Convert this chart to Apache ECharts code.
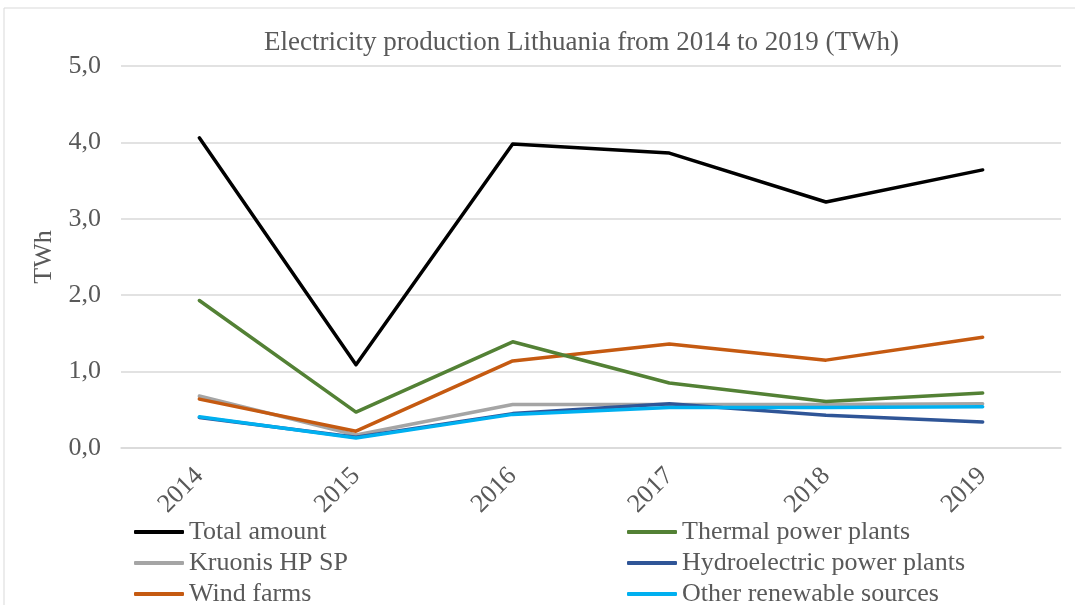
<!DOCTYPE html>
<html>
<head>
<meta charset="utf-8">
<script src="https://cdn.jsdelivr.net/npm/echarts@6/dist/echarts.min.js"></script>
<style>
  html, body { margin: 0; padding: 0; background: #ffffff; }
  #chart { width: 1075px; height: 605px; }
</style>
</head>
<body>
<div id="chart"></div>
<script>
// Electricity production in Lithuania, TWh per year
const years = ['2014', '2015', '2016', '2017', '2018', '2019'];
const totalAmount   = [4.06, 1.09, 3.98, 3.86, 3.22, 3.64];
const thermalPlants = [1.93, 0.47, 1.39, 0.85, 0.61, 0.72];
const kruonisHPSP   = [0.68, 0.17, 0.57, 0.57, 0.57, 0.58];
const hydroPlants   = [0.40, 0.14, 0.45, 0.58, 0.43, 0.34];
const windFarms     = [0.64, 0.22, 1.14, 1.36, 1.15, 1.45];
const otherRenew    = [0.41, 0.13, 0.44, 0.53, 0.53, 0.54];
const yTicks = [0, 1, 2, 3, 4, 5];

const FONT = '"Liberation Serif", "Times New Roman", serif';
const TEXT = '#595959';
const FS = 26;

function line(name, data, color) {
  return {
    name: name,
    type: 'line',
    data: data,
    symbol: 'none',
    lineStyle: { color: color, width: 3.5, cap: 'round', join: 'round' },
    itemStyle: { color: color }
  };
}

function legendColumn(left, names) {
  return {
    orient: 'vertical',
    left: left, top: 514, height: 120,
    icon: 'roundRect', itemWidth: 50, itemHeight: 4, itemGap: 5,
    textStyle: {
      fontFamily: FONT, fontSize: FS, lineHeight: 26, color: TEXT
    },
    data: names
  };
}

const chart = echarts.init(document.getElementById('chart'));
chart.setOption({
  animation: false,
  backgroundColor: '#ffffff',
  graphic: [{
    type: 'rect',
    shape: { x: 4, y: 8, width: 1200, height: 800 },
    style: { fill: 'none', stroke: '#d9d9d9', lineWidth: 1 },
    silent: true,
    z: -1
  }],
  title: {
    text: 'Electricity production Lithuania from 2014 to 2019 (TWh)',
    left: 259,
    top: 24,
    textStyle: { fontFamily: FONT, fontSize: 27, fontWeight: 'normal', color: TEXT }
  },
  grid: { left: 121, right: 14, top: 66, bottom: 157 },
  xAxis: {
    type: 'category',
    data: years,
    boundaryGap: true,
    axisLine: { show: true, lineStyle: { color: '#d9d9d9', width: 1.5 } },
    axisTick: { show: false },
    axisLabel: {
      rotate: 45, margin: 24, interval: 0,
      fontFamily: FONT, fontSize: FS, color: TEXT
    }
  },
  yAxis: {
    type: 'value',
    min: yTicks[0],
    max: yTicks[yTicks.length - 1],
    interval: 1,
    name: 'TWh',
    nameLocation: 'middle',
    nameRotate: 90,
    nameGap: 64,
    nameTextStyle: { fontFamily: FONT, fontSize: FS, color: TEXT },
    axisLine: { show: false },
    axisTick: { show: false },
    splitLine: { lineStyle: { color: '#d9d9d9', width: 1.5 } },
    axisLabel: {
      margin: 20,
      fontFamily: FONT, fontSize: FS, color: TEXT,
      formatter: v => v.toFixed(1).replace('.', ',')
    }
  },
  legend: [
    legendColumn(129, ['Total amount', 'Kruonis HP SP', 'Wind farms']),
    legendColumn(622, ['Thermal power plants', 'Hydroelectric power plants', 'Other renewable sources'])
  ],
  series: [
    line('Kruonis HP SP', kruonisHPSP, '#a5a5a5'),
    line('Hydroelectric power plants', hydroPlants, '#2f5597'),
    line('Other renewable sources', otherRenew, '#00b0f0'),
    line('Wind farms', windFarms, '#c55a11'),
    line('Thermal power plants', thermalPlants, '#538135'),
    line('Total amount', totalAmount, '#000000')
  ]
});
</script>
</body>
</html>
